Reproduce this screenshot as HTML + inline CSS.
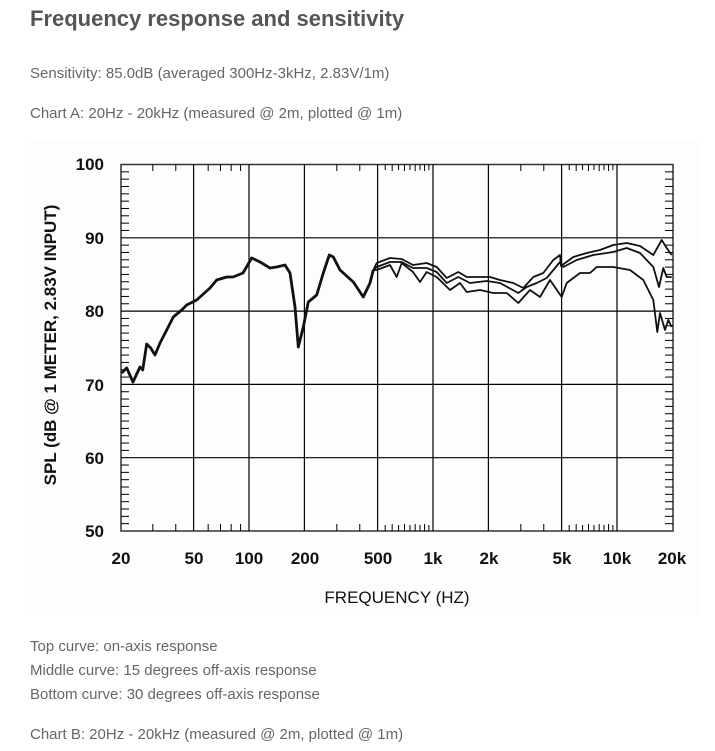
<!DOCTYPE html>
<html><head><meta charset="utf-8"><style>
body{margin:0;background:#fff;width:715px;height:751px;overflow:hidden;font-family:"Liberation Sans",sans-serif;color:#666}
.t{position:absolute;left:30px;white-space:nowrap}
h1{position:absolute;left:30px;top:6px;margin:0;font-size:22px;font-weight:bold;color:#555}
p{margin:0;font-size:15px}
</style></head><body>
<h1>Frequency response and sensitivity</h1>
<p class="t" style="top:65px">Sensitivity: 85.0dB (averaged 300Hz-3kHz, 2.83V/1m)</p>
<p class="t" style="top:105px">Chart A: 20Hz - 20kHz (measured @ 2m, plotted @ 1m)</p>
<svg style="position:absolute;left:0;top:0" width="715" height="751">
<rect x="30" y="140" width="670" height="475" fill="#fdfdfd"/>
<g stroke="#000" stroke-width="1" fill="none">
<rect x="121" y="164.5" width="552" height="366.5" stroke="#333" stroke-width="1.5"/>
<g id="g"></g>
</g>
<g id="c" fill="none" stroke="#111" stroke-width="1.8" stroke-linejoin="round"></g>
<g font-family="Liberation Sans,sans-serif" font-size="17" font-weight="bold" fill="#111" text-anchor="end">
<text x="104" y="170">100</text><text x="104" y="244">90</text><text x="104" y="317">80</text><text x="104" y="391">70</text><text x="104" y="464">60</text><text x="104" y="537">50</text>
</g>
<g font-family="Liberation Sans,sans-serif" font-size="17" font-weight="bold" fill="#111" text-anchor="middle">
<text x="121" y="564">20</text><text x="194" y="564">50</text><text x="249" y="564">100</text><text x="305" y="564">200</text><text x="378" y="564">500</text><text x="433" y="564">1k</text><text x="489" y="564">2k</text><text x="562" y="564">5k</text><text x="617" y="564">10k</text><text x="672" y="564">20k</text>
<text x="397" y="603" font-weight="normal">FREQUENCY  (HZ)</text>
<text transform="translate(56,345) rotate(-90)">SPL (dB @ 1 METER, 2.83V INPUT)</text>
</g>
</svg>
<p class="t" style="top:638px">Top curve: on-axis response</p>
<p class="t" style="top:662px">Middle curve: 15 degrees off-axis response</p>
<p class="t" style="top:686px">Bottom curve: 30 degrees off-axis response</p>
<p class="t" style="top:726px">Chart B: 20Hz - 20kHz (measured @ 2m, plotted @ 1m)</p>
<script>
(function(){
var ns="http://www.w3.org/2000/svg",g=document.getElementById("g"),c=document.getElementById("c");
function L(x1,y1,x2,y2,w){var l=document.createElementNS(ns,"line");l.setAttribute("x1",x1);l.setAttribute("y1",y1);l.setAttribute("x2",x2);l.setAttribute("y2",y2);if(w)l.setAttribute("stroke-width",w);g.appendChild(l);}
function X(f){return 249+184*Math.log10(f/100);}
[90,80,70,60].forEach(function(d){var y=164.5+(100-d)*7.33;L(121,y,673,y,1.2);});
[50,100,200,500,1000,2000,5000,10000].forEach(function(f){L(X(f),164.5,X(f),531,1.2);});
for(var d=51;d<100;d++){if(d%10==0)continue;var y=164.5+(100-d)*7.33;L(121,y,129,y,1);L(665,y,673,y,1);}
[30,40,60,70,80,90,300,400,600,700,800,900,3000,4000,6000,7000,8000,9000].forEach(function(f){L(X(f),164.5,X(f),171);L(X(f),531,X(f),524);});
[550,650,750,850,950,5500,6500,7500,8500,9500].forEach(function(f){L(X(f),164.5,X(f),170);L(X(f),531,X(f),525);});
var base=[[121.7,373],[126.7,368],[133,382],[140,367],[142.7,370],[146.7,344],[150.7,348],[155,355],[160,343],[166.7,330],[173.3,317],[181.7,310],[186.7,305],[196.7,300],[210,288],[216.7,280],[226.7,277],[233,277],[243,273],[251.7,258],[260,262],[270,268],[276.7,267],[285,265],[290,273],[295,307],[298.3,347],[303.3,327],[308.3,302],[316.7,295],[323.3,273],[329.3,255],[333.3,257],[340,270],[353.3,282],[363.3,297],[370,283],[373.3,270]];
var ctop=[[376.7,263],[390,258],[401.7,259],[413,265],[426.7,263],[436.7,267],[446.7,278],[458.3,272],[466.7,277],[476.7,277],[490,277],[500,280],[513.3,283],[523.3,288],[533.3,277],[543.3,273],[553.3,260],[560,255],[561,266],[573.3,257],[586.7,253],[600,250],[613.3,245],[626.7,243],[640,246],[653.3,255],[661.7,240],[666.7,248],[671.7,255]];
var cmid=[[376.7,267],[390,262],[401.7,262],[413,268],[426.7,268],[436.7,272],[446.7,283],[458.3,277],[470,283],[486.7,281],[500,283],[518.3,293],[526.7,287],[536.7,283],[546.7,278],[560,262],[563.3,267],[576.7,260],[593.3,255],[613.3,252],[626.7,248],[640,253],[653.3,267],[659,287],[663.3,268],[666.7,277],[671.7,277]];
var cbot=[[376.7,270],[390,265],[396.7,277],[401.7,263],[413,272],[420,282],[426.7,272],[436.7,277],[450,290],[460,283],[466.7,292],[480,290],[493.3,293],[506.7,293],[518.3,303],[530,290],[540,297],[550,280],[561.7,297],[566.7,283],[580,273],[590,273],[596.7,267],[613.3,267],[630,270],[643.3,280],[653.3,300],[657.3,332],[660,313],[665,330],[668.3,320],[671.7,327]];
function P(a,w){var p=document.createElementNS(ns,"polyline");p.setAttribute("points",a.map(function(q){return q.join(",")}).join(" "));if(w)p.setAttribute("stroke-width",w);c.appendChild(p);}
var last=base[base.length-1];
P(base,2.8);P([last].concat(ctop));P([last].concat(cmid));P([last].concat(cbot));
})();
</script>
</body></html>
